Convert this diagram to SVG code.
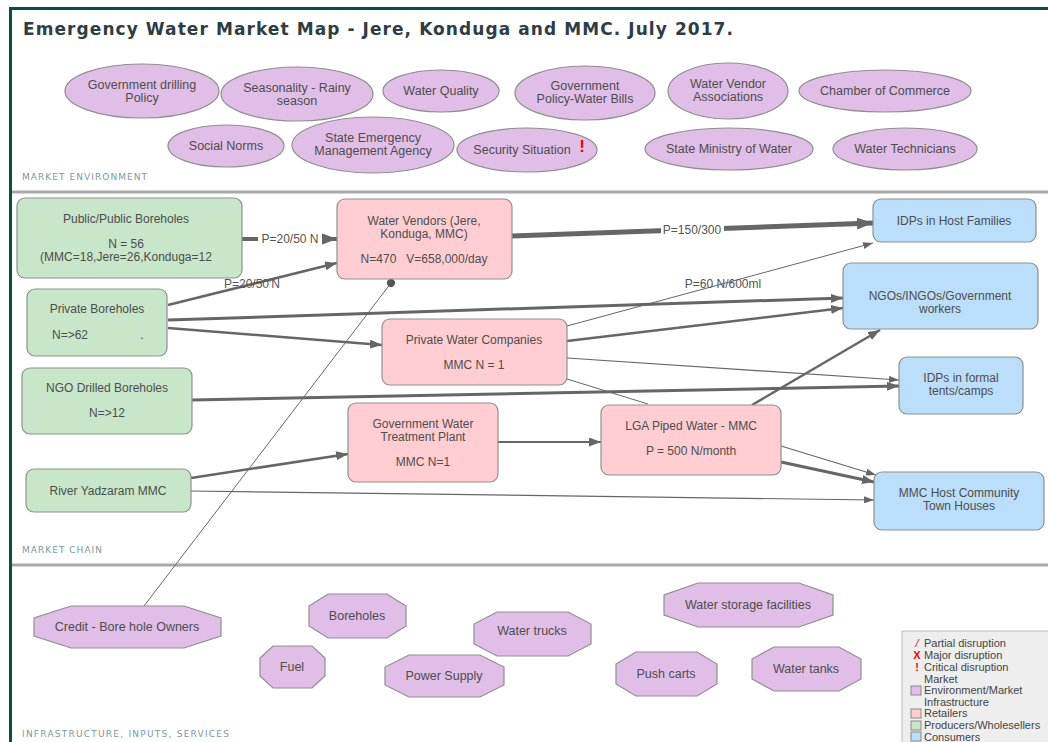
<svg xmlns="http://www.w3.org/2000/svg" width="1048" height="742" viewBox="0 0 1048 742">
<style>
.t{font-family:"Liberation Sans",Arial,sans-serif;fill:#4d4d4d;text-anchor:middle}
.e{font-size:12.5px}
.n{font-size:12px}
.env{fill:#e1bee7;stroke:#8f8f8f;stroke-width:1.2}
.pro{fill:#c8e6c9;stroke:#8f8f8f;stroke-width:1.2}
.ret{fill:#ffcdd2;stroke:#8f8f8f;stroke-width:1.2}
.con{fill:#bbdefb;stroke:#8f8f8f;stroke-width:1.2}
.sec{font-family:"DejaVu Sans",Verdana,sans-serif;font-size:9px;fill:#7b97a4;letter-spacing:1px}
.c{fill:none;stroke:#666}
.lab{font-family:"Liberation Sans",Arial,sans-serif;font-size:12px;fill:#555;text-anchor:middle}
.lg{font-family:"Liberation Sans",Arial,sans-serif;font-size:11px;fill:#444}
</style>
<defs>
<marker id="aL" markerUnits="userSpaceOnUse" markerWidth="16" markerHeight="12" refX="16" refY="6" orient="auto"><path d="M0,0 L16,6 L0,12 z" fill="#666"/></marker>
<marker id="aM" markerUnits="userSpaceOnUse" markerWidth="12" markerHeight="9" refX="12" refY="4.5" orient="auto"><path d="M0,0 L12,4.5 L0,9 z" fill="#666"/></marker>
<marker id="aS" markerUnits="userSpaceOnUse" markerWidth="10" markerHeight="7" refX="10" refY="3.5" orient="auto"><path d="M0,0 L10,3.5 L0,7 z" fill="#666"/></marker>
<marker id="dot" markerUnits="userSpaceOnUse" markerWidth="10" markerHeight="10" refX="5" refY="5" orient="auto"><circle cx="5" cy="5" r="4" fill="#555"/></marker>
</defs>
<rect x="0" y="0" width="1048" height="742" fill="#ffffff"/>
<!-- frame -->
<path d="M10.5,742 L10.5,8.5 L1048,8.5" fill="none" stroke="#0b4f44" stroke-width="3"/>
<text x="23" y="35" font-family="DejaVu Sans,Verdana,sans-serif" font-size="17" font-weight="bold" fill="#2e3d45" textLength="710" lengthAdjust="spacing">Emergency Water Market Map - Jere, Konduga and MMC. July 2017.</text>
<!-- section dividers -->
<line x1="12" y1="192" x2="1048" y2="192" stroke="#aaaaaa" stroke-width="3"/>
<line x1="12" y1="565" x2="1048" y2="565" stroke="#aaaaaa" stroke-width="3"/>
<text class="sec" x="22" y="180" textLength="126" lengthAdjust="spacing">MARKET ENVIRONMENT</text>
<text class="sec" x="22" y="553" textLength="81" lengthAdjust="spacing">MARKET CHAIN</text>
<text class="sec" x="22" y="737" textLength="208" lengthAdjust="spacing">INFRASTRUCTURE, INPUTS, SERVICES</text>

<!-- market environment -->
<g id="env-gov-drilling"><ellipse class="env" cx="142" cy="91" rx="77" ry="27"/><text class="t e" x="142" y="89">Government drilling</text><text class="t e" x="142" y="102">Policy</text></g>
<g id="env-seasonality"><ellipse class="env" cx="297" cy="94" rx="76" ry="27"/><text class="t e" x="297" y="92">Seasonality - Rainy</text><text class="t e" x="297" y="105">season</text></g>
<g id="env-water-quality"><ellipse class="env" cx="441" cy="91" rx="58" ry="21"/><text class="t e" x="441" y="95">Water Quality</text></g>
<g id="env-gov-policy"><ellipse class="env" cx="585" cy="93" rx="70" ry="27"/><text class="t e" x="585" y="90">Government</text><text class="t e" x="585" y="103">Policy-Water Bills</text></g>
<g id="env-vendor-assoc"><ellipse class="env" cx="728" cy="91" rx="60" ry="28"/><text class="t e" x="728" y="88">Water Vendor</text><text class="t e" x="728" y="101">Associations</text></g>
<g id="env-chamber"><ellipse class="env" cx="885" cy="91" rx="86" ry="21"/><text class="t e" x="885" y="95">Chamber of Commerce</text></g>
<g id="env-social-norms"><ellipse class="env" cx="226" cy="146" rx="58" ry="21"/><text class="t e" x="226" y="150">Social Norms</text></g>
<g id="env-sema"><ellipse class="env" cx="373" cy="145" rx="81" ry="28"/><text class="t e" x="373" y="142">State Emergency</text><text class="t e" x="373" y="155">Management Agency</text></g>
<g id="env-security"><ellipse class="env" cx="527" cy="150" rx="70" ry="22"/><text class="t e" x="522" y="154">Security Situation</text><text x="582" y="152" font-family="Liberation Sans,Arial,sans-serif" font-size="17" font-weight="bold" fill="#ff0000" text-anchor="middle">!</text></g>
<g id="env-ministry"><ellipse class="env" cx="729" cy="149" rx="84" ry="21"/><text class="t e" x="729" y="153">State Ministry of Water</text></g>
<g id="env-technicians"><ellipse class="env" cx="905" cy="149" rx="72" ry="21"/><text class="t e" x="905" y="153">Water Technicians</text></g>

<!-- connectors -->
<g id="connectors">
<line class="c" x1="242" y1="239" x2="337" y2="239" stroke-width="4" marker-end="url(#aL)"/>
<rect x="258" y="231" width="64" height="15" fill="#ffffff"/>
<text class="lab" x="290" y="243">P=20/50 N</text>
<line class="c" x1="168" y1="305" x2="337" y2="263" stroke-width="2.5" marker-end="url(#aM)"/>
<text class="lab" x="252" y="288">P=20/50'N</text>
<line class="c" x1="168" y1="320" x2="843" y2="298" stroke-width="3" marker-end="url(#aM)"/>
<line class="c" x1="168" y1="328" x2="382" y2="345" stroke-width="2.5" marker-end="url(#aM)"/>
<line class="c" x1="512" y1="236" x2="873" y2="223" stroke-width="5" marker-end="url(#aL)"/>
<rect x="661" y="222" width="63" height="15" fill="#ffffff"/>
<text class="lab" x="692" y="234">P=150/300</text>
<line class="c" x1="567" y1="326" x2="873" y2="243" stroke-width="1" marker-end="url(#aS)"/>
<text class="lab" x="723" y="288">P=60 N/600ml</text>
<line class="c" x1="567" y1="341" x2="843" y2="308" stroke-width="2.5" marker-end="url(#aM)"/>
<line class="c" x1="567" y1="358" x2="899" y2="380" stroke-width="1.2" marker-end="url(#aS)"/>
<line class="c" x1="567" y1="379" x2="648" y2="404" stroke-width="1"/>
<line class="c" x1="192" y1="400" x2="899" y2="386" stroke-width="3" marker-end="url(#aM)"/>
<line class="c" x1="191" y1="478" x2="348" y2="454" stroke-width="2.5" marker-end="url(#aM)"/>
<line class="c" x1="191" y1="491" x2="874" y2="500" stroke-width="1.2" marker-end="url(#aS)"/>
<line class="c" x1="498" y1="442" x2="601" y2="442" stroke-width="2" marker-end="url(#aM)"/>
<line class="c" x1="752" y1="405" x2="880" y2="330" stroke-width="2.5" marker-end="url(#aM)"/>
<line class="c" x1="781" y1="446" x2="876" y2="475" stroke-width="1.2" marker-end="url(#aS)"/>
<line class="c" x1="781" y1="462" x2="874" y2="482" stroke-width="3" marker-end="url(#aM)"/>
<line class="c" x1="144" y1="606" x2="391" y2="283" stroke-width="1" stroke="#777" marker-end="url(#dot)"/>
</g>

<!-- market chain nodes -->
<g id="pub-boreholes"><rect class="pro" x="17" y="198" width="225" height="80" rx="8"/><text class="t n" x="126" y="223">Public/Public Boreholes</text><text class="t n" x="126" y="248">N = 56</text><text class="t n" x="126" y="261">(MMC=18,Jere=26,Konduga=12</text></g>
<g id="priv-boreholes"><rect class="pro" x="27" y="289" width="140" height="67" rx="8"/><text class="t n" x="97" y="313">Private Boreholes</text><text class="t n" x="70" y="339">N=&gt;62</text><text class="t n" x="142" y="339">.</text></g>
<g id="ngo-boreholes"><rect class="pro" x="22" y="368" width="170" height="66" rx="8"/><text class="t n" x="107" y="392">NGO Drilled Boreholes</text><text class="t n" x="107" y="417">N=&gt;12</text></g>
<g id="river"><rect class="pro" x="26" y="469" width="165" height="43" rx="8"/><text class="t n" x="108" y="495">River Yadzaram MMC</text></g>
<g id="vendors"><rect class="ret" x="337" y="199" width="175" height="80" rx="8"/><text class="t n" x="424" y="225">Water Vendors (Jere,</text><text class="t n" x="424" y="238">Konduga, MMC)</text><text class="t n" x="424" y="263" xml:space="preserve">N=470   V=658,000/day</text></g>
<g id="pwc"><rect class="ret" x="382" y="319" width="185" height="66" rx="8"/><text class="t n" x="474" y="344">Private Water Companies</text><text class="t n" x="474" y="369">MMC N = 1</text></g>
<g id="treatment"><rect class="ret" x="348" y="403" width="150" height="79" rx="8"/><text class="t n" x="423" y="428">Government Water</text><text class="t n" x="423" y="441">Treatment Plant</text><text class="t n" x="423" y="466">MMC N=1</text></g>
<g id="lga"><rect class="ret" x="601" y="405" width="180" height="70" rx="8"/><text class="t n" x="691" y="430">LGA Piped Water - MMC</text><text class="t n" x="691" y="455">P = 500 N/month</text></g>
<g id="idp-host"><rect class="con" x="873" y="199" width="163" height="43" rx="8"/><text class="t n" x="954" y="225">IDPs in Host Families</text></g>
<g id="ngos"><rect class="con" x="843" y="263" width="195" height="66" rx="8"/><text class="t n" x="940" y="300">NGOs/INGOs/Government</text><text class="t n" x="940" y="313">workers</text></g>
<g id="idp-formal"><rect class="con" x="899" y="357" width="124" height="57" rx="8"/><text class="t n" x="961" y="382">IDPs in formal</text><text class="t n" x="961" y="395">tents/camps</text></g>
<g id="mmc-host"><rect class="con" x="874" y="472" width="170" height="58" rx="8"/><text class="t n" x="959" y="497">MMC Host Community</text><text class="t n" x="959" y="510">Town Houses</text></g>

<!-- infrastructure -->
<g id="inf-credit"><polygon class="env" points="71,606 184,606 221,618 221,636 184,648 71,648 34,636 34,618"/><text class="t e" x="127" y="631">Credit - Bore hole Owners</text></g>
<g id="inf-boreholes"><polygon class="env" points="328,594 387,594 406,606 406,626 387,638 328,638 309,626 309,606"/><text class="t e" x="357" y="620">Boreholes</text></g>
<g id="inf-fuel"><polygon class="env" points="273,646 312,646 325,658 325,676 312,688 273,688 260,676 260,658"/><text class="t e" x="292" y="671">Fuel</text></g>
<g id="inf-power"><polygon class="env" points="409,655 480,655 504,667 504,685 480,697 409,697 385,685 385,667"/><text class="t e" x="444" y="680">Power Supply</text></g>
<g id="inf-trucks"><polygon class="env" points="497,612 568,612 591,624 591,644 568,656 497,656 474,644 474,624"/><text class="t e" x="532" y="635">Water trucks</text></g>
<g id="inf-storage"><polygon class="env" points="698,583 799,583 833,595 833,615 799,627 698,627 664,615 664,595"/><text class="t e" x="748" y="609">Water storage facilities</text></g>
<g id="inf-pushcarts"><polygon class="env" points="636,652 697,652 717,664 717,684 697,696 636,696 616,684 616,664"/><text class="t e" x="666" y="678">Push carts</text></g>
<g id="inf-tanks"><polygon class="env" points="774,647 839,647 861,659 861,679 839,691 774,691 752,679 752,659"/><text class="t e" x="806" y="673">Water tanks</text></g>

<!-- legend -->
<g id="legend">
<rect x="902" y="631" width="150" height="120" fill="#eeeeee" stroke="#bbbbbb"/>
<text x="917" y="647" font-family="Liberation Sans,Arial,sans-serif" font-size="11" font-style="italic" fill="#ff0000" text-anchor="middle">/</text>
<text class="lg" x="924" y="647">Partial disruption</text>
<text x="917" y="659" font-family="Liberation Sans,Arial,sans-serif" font-size="11" font-weight="bold" fill="#ff0000" text-anchor="middle">X</text>
<text class="lg" x="924" y="659">Major disruption</text>
<text x="917" y="671" font-family="Liberation Sans,Arial,sans-serif" font-size="11" font-weight="bold" fill="#ff0000" text-anchor="middle">!</text>
<text class="lg" x="924" y="671">Critical disruption</text>
<text class="lg" x="924" y="683">Market</text>
<rect x="911" y="686" width="10" height="9" fill="#e1bee7" stroke="#888"/>
<text class="lg" x="924" y="694">Environment/Market</text>
<text class="lg" x="924" y="706">Infrastructure</text>
<rect x="911" y="709" width="10" height="9" fill="#ffcdd2" stroke="#888"/>
<text class="lg" x="924" y="717">Retailers</text>
<rect x="911" y="721" width="10" height="9" fill="#c8e6c9" stroke="#888"/>
<text class="lg" x="924" y="729">Producers/Wholesellers</text>
<rect x="911" y="732" width="10" height="9" fill="#bbdefb" stroke="#888"/>
<text class="lg" x="924" y="741">Consumers</text>
</g>
</svg>
